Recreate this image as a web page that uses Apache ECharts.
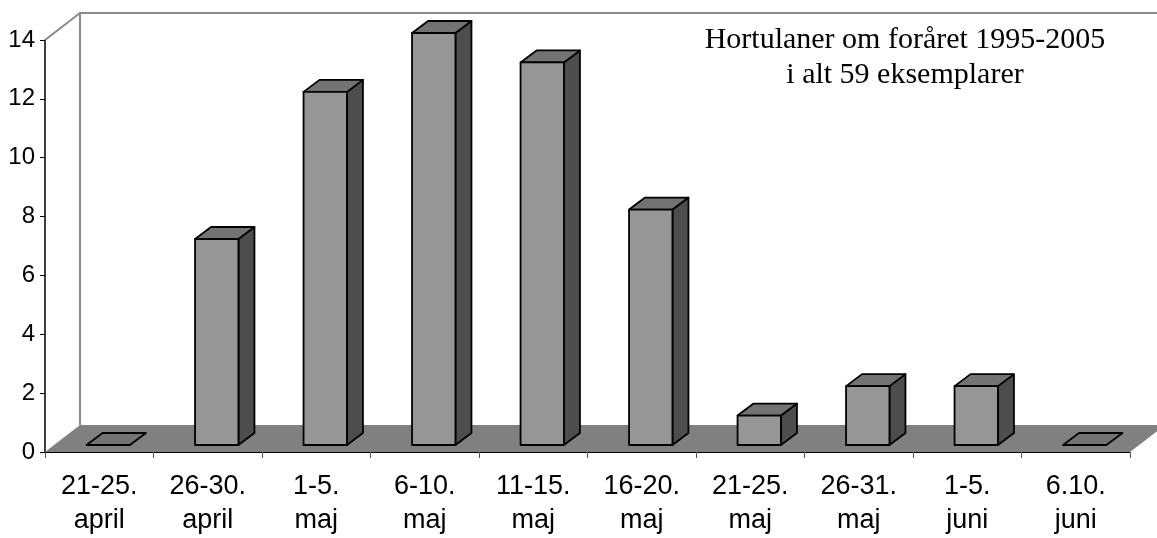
<!DOCTYPE html>
<html>
<head>
<meta charset="utf-8">
<script src="https://cdn.jsdelivr.net/npm/echarts@6/dist/echarts.min.js"></script>
<style>
    html, body { margin: 0; padding: 0; background: #fff; }
    #chart { width: 1157px; height: 538px; }
</style>
</head>
<body>
<div id="chart"></div>
<script>
// data
const categories = ['21-25.\napril', '26-30.\napril', '1-5.\nmaj', '6-10.\nmaj', '11-15.\nmaj',
    '16-20.\nmaj', '21-25.\nmaj', '26-31.\nmaj', '1-5.\njuni', '6.10.\njuni'];
const counts = [0, 7, 12, 14, 13, 8, 1, 2, 2, 0];
const yTicks = [0, 14, 2];  // min, max, interval
const titleLines = ['Hortulaner om foråret 1995-2005', 'i alt 59 eksemplarer'];

// 3D look
const FLOOR_DX = 35, FLOOR_DY = 27;   // depth of floor
const BAR_DX = 16, BAR_DY = 12;       // depth of a bar
const SHIFT_X = 9, SHIFT_Y = 7;       // bar pushed to middle of floor

(function () {
    let myChart = echarts.init(document.getElementById('chart'));

    // floor + back walls
    function renderFrame(params, api) {
        const cs = params.coordSys;
        const x0 = cs.x, x1 = cs.x + cs.width;
        const yb = cs.y + cs.height, yt = cs.y;
        return {
            type: 'group',
            children: [
                {
                    type: 'polygon',
                    shape: { points: [[x0, yb], [x1, yb], [x1 + FLOOR_DX, yb - FLOOR_DY], [x0 + FLOOR_DX, yb - FLOOR_DY]] },
                    style: { fill: '#808080', stroke: null }
                },
                {
                    type: 'polyline',
                    shape: { points: [[x0, yt], [x0 + FLOOR_DX, yt - FLOOR_DY], [x1 + FLOOR_DX + 20, yt - FLOOR_DY]] },
                    style: { fill: null, stroke: '#8a8a8a', lineWidth: 2 }
                },
                {
                    type: 'line',
                    shape: { x1: x0 + FLOOR_DX, y1: yt - FLOOR_DY, x2: x0 + FLOOR_DX, y2: yb - FLOOR_DY },
                    style: { stroke: '#8a8a8a', lineWidth: 2 }
                }
            ]
        };
    }

    // 3D bars
    function renderBar(params, api) {
        const idx = api.value(0);
        const val = api.value(1);
        const top = api.coord([idx, val]);
        const base = api.coord([idx, 0]);
        const w = api.size([1, 0])[0] * 0.4;
        const xl = top[0] - w / 2 + SHIFT_X;
        const xr = xl + w;
        const yt = top[1] - SHIFT_Y;
        const yb = base[1] - SHIFT_Y;
        const line = { stroke: '#000', lineWidth: 1.8, lineJoin: 'round' };
        const topFace = {
            type: 'polygon',
            shape: { points: [[xl, yt], [xr, yt], [xr + BAR_DX, yt - BAR_DY], [xl + BAR_DX, yt - BAR_DY]] },
            style: Object.assign({ fill: '#737373' }, line)
        };
        if (val <= 0) {
            return { type: 'group', children: [topFace] };
        }
        return {
            type: 'group',
            children: [
                {
                    type: 'polygon',
                    shape: { points: [[xr, yb], [xr + BAR_DX, yb - BAR_DY], [xr + BAR_DX, yt - BAR_DY], [xr, yt]] },
                    style: Object.assign({ fill: '#4d4d4d' }, line)
                },
                topFace,
                {
                    type: 'rect',
                    shape: { x: xl, y: yt, width: w, height: yb - yt },
                    style: Object.assign({ fill: '#969696' }, line)
                }
            ]
        };
    }

    let option = {
        animation: false,
        grid: {
            left: 45,
            right: 27,
            top: 40,
            bottom: 85
        },
        xAxis: {
            type: 'category',
            data: categories,
            axisLine: {
                show: true,
                lineStyle: { color: '#000', width: 1 }
            },
            axisTick: {
                show: true,
                length: 6,
                lineStyle: { color: '#555' }
            },
            axisLabel: {
                color: '#000',
                fontFamily: 'Liberation Sans, Arial, sans-serif',
                fontSize: 27,
                lineHeight: 34,
                margin: 18,
                interval: 0
            },
            splitLine: { show: false }
        },
        yAxis: {
            type: 'value',
            min: yTicks[0],
            max: yTicks[1],
            interval: yTicks[2],
            axisLine: {
                show: true,
                lineStyle: { color: '#000', width: 1.5 }
            },
            axisTick: {
                show: true,
                length: 5,
                lineStyle: { color: '#000' }
            },
            axisLabel: {
                color: '#000',
                fontFamily: 'Liberation Sans, Arial, sans-serif',
                fontSize: 24,
                margin: 10
            },
            splitLine: { show: false }
        },
        graphic: [
            {
                type: 'text',
                x: 905,
                y: 23,
                style: {
                    text: titleLines.join('\n'),
                    fill: '#000',
                    font: '30px "Liberation Serif", "Times New Roman", serif',
                    lineHeight: 35,
                    textAlign: 'center'
                }
            }
        ],
        series: [
            {
                name: 'frame',
                type: 'custom',
                z: 1,
                clip: false,
                silent: true,
                renderItem: renderFrame,
                data: [[0, 0]]
            },
            {
                name: 'Hortulaner',
                type: 'custom',
                z: 2,
                clip: false,
                renderItem: renderBar,
                encode: { x: 0, y: 1 },
                data: counts.map((v, i) => [i, v])
            }
        ]
    };
    myChart.setOption(option);

    window.addEventListener('resize', function () {
        myChart.resize();
    })
})();
</script>
</body>
</html>
